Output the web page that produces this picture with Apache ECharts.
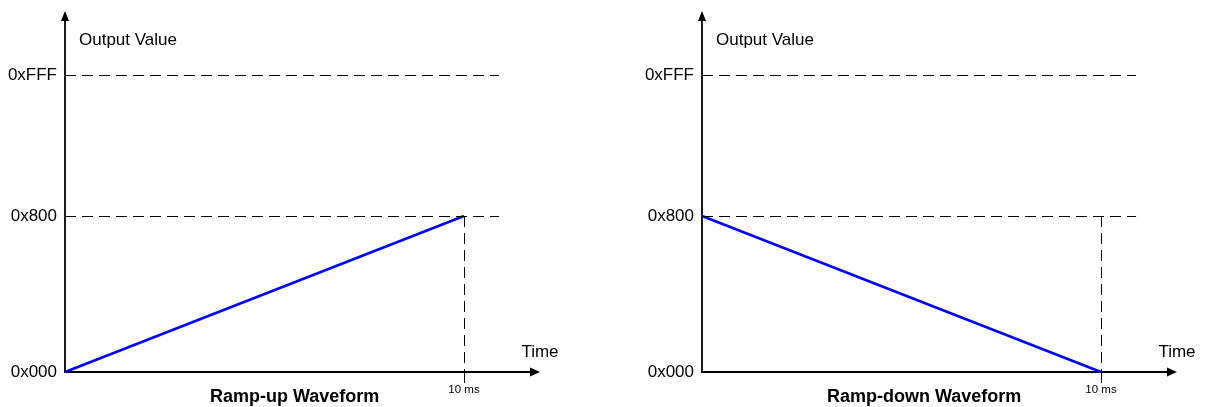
<!DOCTYPE html>
<html>
<head>
<meta charset="utf-8">
<script src="https://cdn.jsdelivr.net/npm/echarts@6/dist/echarts.min.js"></script>
<style>
  html, body { margin: 0; padding: 0; background: #fff; }
  #chart { width: 1208px; height: 407px; }
</style>
</head>
<body>
<div id="chart"></div>
<script>
// y levels are drawn schematically (not to scale), so keep the drawn height per label
const yTickLabels = ['0x000', '0x800', '0xFFF']
const yTickLevels = [0, 1, 1.9]
const xTickValues = [10]
const xTickLabels = ['10 ms']

const rampUp = [[0, 0], [10, 1]]
const rampDown = [[0, 1], [10, 0]]

const titles = ['Ramp-up Waveform', 'Ramp-down Waveform']

const font = 'Liberation Sans, Arial, sans-serif'
const xMax = 11.78
const yMax = 2.282
const dashEnd = 10.88

const chart = echarts.init(document.getElementById('chart'), null, { renderer: 'canvas' })

function makeXAxis (gridIndex) {
  return {
    type: 'value',
    gridIndex,
    min: 0,
    max: xMax,
    name: 'Time',
    nameLocation: 'end',
    nameGap: 5,
    nameTextStyle: {
      fontFamily: font, fontSize: 17, color: '#000',
      align: 'center', verticalAlign: 'bottom', padding: [0, 0, 11, 0]
    },
    axisLine: {
      show: true,
      symbol: ['none', 'triangle'],
      symbolSize: [9, 10],
      lineStyle: { color: '#000', width: 1.8 }
    },
    axisTick: {
      show: true,
      customValues: xTickValues,
      length: 11,
      lineStyle: { color: '#000', width: 1 }
    },
    axisLabel: {
      show: true,
      customValues: xTickValues,
      formatter: v => xTickLabels[xTickValues.indexOf(v)] || '',
      fontFamily: font, fontSize: 11.5, color: '#000', margin: 12
    },
    splitLine: { show: false }
  }
}

function makeYAxis (gridIndex) {
  return {
    type: 'value',
    gridIndex,
    min: 0,
    max: yMax,
    name: 'Output Value',
    nameLocation: 'end',
    nameGap: -24,
    nameTextStyle: {
      fontFamily: font, fontSize: 17, color: '#000',
      align: 'left', verticalAlign: 'middle', padding: [0, 0, 0, 14]
    },
    axisLine: {
      show: true,
      symbol: ['none', 'triangle'],
      symbolSize: [8, 10],
      lineStyle: { color: '#000', width: 1.8 }
    },
    axisTick: { show: false },
    axisLabel: {
      show: true,
      customValues: yTickLevels,
      formatter: v => yTickLabels[yTickLevels.indexOf(v)] || '',
      fontFamily: font, fontSize: 17, color: '#000', margin: 8
    },
    splitLine: { show: false }
  }
}

function makeSeries (idx, data) {
  return {
    type: 'line',
    xAxisIndex: idx,
    yAxisIndex: idx,
    data,
    symbol: 'none',
    lineStyle: { color: '#0000ff', width: 2.5 },
    markLine: {
      silent: true,
      symbol: 'none',
      label: { show: false },
      lineStyle: { color: '#000', width: 1, type: [11, 6] },
      data: [
        [{ coord: [0, yTickLevels[2]] }, { coord: [dashEnd, yTickLevels[2]] }],
        [{ coord: [0, yTickLevels[1]] }, { coord: [dashEnd, yTickLevels[1]] }],
        [{ coord: [xTickValues[0], yTickLevels[1]] }, { coord: [xTickValues[0], 0] }]
      ]
    }
  }
}

const option = {
  animation: false,
  backgroundColor: '#fff',
  title: [
    {
      text: titles[0], left: 210, top: 388, padding: 0,
      textStyle: { fontFamily: font, fontSize: 18, fontWeight: 'bold', color: '#000' }
    },
    {
      text: titles[1], left: 827, top: 388, padding: 0,
      textStyle: { fontFamily: font, fontSize: 18, fontWeight: 'bold', color: '#000' }
    }
  ],
  grid: [
    { left: 65, top: 16, width: 470, height: 356, containLabel: false },
    { left: 702, top: 16, width: 470, height: 356, containLabel: false }
  ],
  xAxis: [makeXAxis(0), makeXAxis(1)],
  yAxis: [makeYAxis(0), makeYAxis(1)],
  series: [makeSeries(0, rampUp), makeSeries(1, rampDown)]
}

chart.setOption(option)
window.addEventListener('resize', chart.resize)
</script>
</body>
</html>
